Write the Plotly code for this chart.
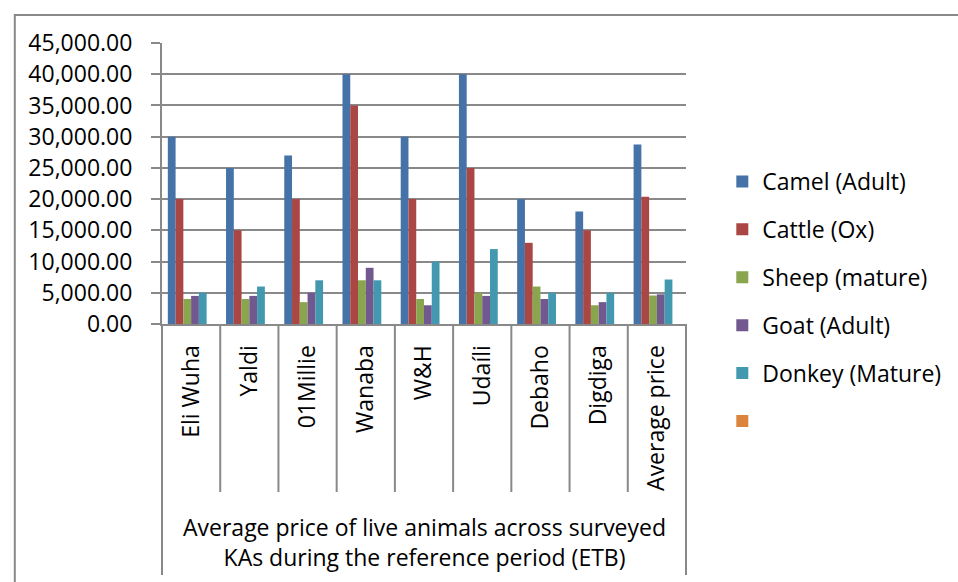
import plotly.graph_objects as go

# Surveyed kebele administrations (KAs) plus the overall average
places = ["Eli Wuha", "Yaldi", "01Millie", "Wanaba", "W&H", "Udaíli",
          "Debaho", "Digdiga", "Average price"]

# Average price of live animals (ETB)
camel = [30000, 25000, 27000, 40000, 30000, 40000, 20000, 18000, 28750]
cattle = [20000, 15000, 20000, 35000, 20000, 25000, 13000, 15000, 20375]
sheep = [4000, 4000, 3500, 7000, 4000, 5000, 6000, 3000, 4562.5]
goat = [4500, 4500, 5000, 9000, 3000, 4500, 4000, 3500, 4750]
donkey = [5000, 6000, 7000, 7000, 10000, 12000, 5000, 5000, 7125]
unnamed = [None] * len(places)  # empty sixth series kept in the legend

series_names = ["Camel (Adult)", "Cattle (Ox)", "Sheep (mature)",
                "Goat (Adult)", "Donkey (Mature)", ""]
series_values = [camel, cattle, sheep, goat, donkey, unnamed]
colors = ["#4572A7", "#AA4643", "#89A54E", "#71588F", "#4198AF", "#DB843D"]

y_ticks = [0, 5000, 10000, 15000, 20000, 25000, 30000, 35000, 40000, 45000]
group_label = ("Average price of live animals across surveyed<br>"
               "KAs during the reference period (ETB)")

# ---- page geometry (pixels) ----
W, H = 958, 582
L, R, T, B = 162, 696, 43, 324
FONT = "Open Sans"
GRAY = "#898989"
FS = 23


def px_x(x):
    return (x - L) / (R - L)


def px_y(y):
    return (B - y) / (B - T)


fig = go.Figure()
for i, (name, vals, col) in enumerate(zip(series_names, series_values, colors)):
    fig.add_trace(go.Bar(
        x=places, y=vals, name=name, legendgroup=str(i),
        marker=dict(color=col, line=dict(width=0)),
    ))

shapes = []
# outer chart frame (right and bottom edges run off the page)
shapes.append(dict(type="rect", xref="paper", yref="paper",
                   x0=px_x(12), y0=px_y(15), x1=px_x(W + 40), y1=px_y(H + 40),
                   line=dict(color=GRAY, width=2), fillcolor="rgba(0,0,0,0)"))
# separators between category labels
n = len(places)
for k in range(1, n):
    shapes.append(dict(type="line", xref="paper", yref="paper",
                       x0=k / n, x1=k / n, y0=0, y1=px_y(492),
                       line=dict(color=GRAY, width=2)))
# outer separators enclosing the group label
for xe in (0, 1):
    shapes.append(dict(type="line", xref="paper", yref="paper",
                       x0=xe, x1=xe, y0=0, y1=px_y(575),
                       line=dict(color=GRAY, width=2)))

fig.update_layout(
    width=W, height=H,
    margin=dict(l=L, r=W - R, t=T, b=H - B, pad=0),
    paper_bgcolor="white", plot_bgcolor="white",
    font=dict(family=FONT, size=FS, color="#000000"),
    barmode="group", bargap=0.2, bargroupgap=0,
    shapes=shapes,
    annotations=[dict(text=group_label, xref="paper", yref="paper",
                      x=0.5, y=px_y(542), xanchor="center", yanchor="middle",
                      showarrow=False, align="center",
                      font=dict(family=FONT, size=FS, color="#000000"))],
    legend=dict(x=px_x(733), xanchor="left", y=px_y(160), yanchor="top",
                font=dict(family=FONT, size=FS, color="#000000"),
                tracegroupgap=15, maxheight=560,
                bgcolor="rgba(0,0,0,0)"),
    showlegend=True,
)

fig.update_xaxes(
    type="category", range=[-0.5, n - 0.5],
    showline=True, linecolor=GRAY, linewidth=2,
    ticks="", tickangle=-90, ticklabelstandoff=10,
    tickfont=dict(family=FONT, size=FS, color="#000000"),
    showgrid=False, zeroline=False,
)
fig.update_yaxes(
    range=[0, 45000], tickvals=y_ticks, tickformat=",.2f",
    showline=True, linecolor=GRAY, linewidth=2,
    ticks="outside", ticklen=9, tickcolor=GRAY, tickwidth=2,
    ticklabelstandoff=14,
    showgrid=True, gridcolor=GRAY, gridwidth=2,
    zeroline=False,
    tickfont=dict(family=FONT, size=FS, color="#000000"),
)

fig.write_html("out.html")
